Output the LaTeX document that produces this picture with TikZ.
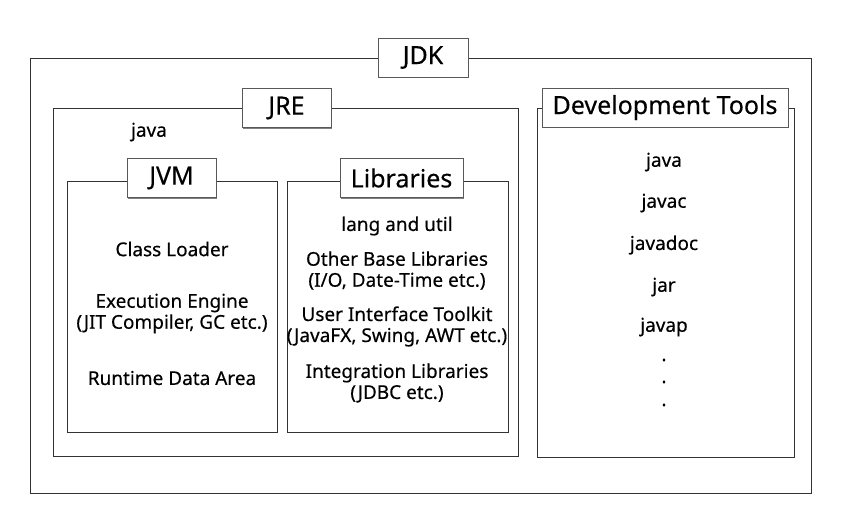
\documentclass[tikz,border=0pt]{standalone}
\usepackage{fontspec}
\setmainfont{Noto Sans}[FakeBold=0.35]
\usetikzlibrary{shadows}
\begin{document}
\begin{tikzpicture}[x=1pt,y=-1pt,
  frame/.style={draw=black!80, line width=0.9pt, inner sep=0pt, outer sep=0pt, anchor=north west},
  tag/.style={draw=black!65, fill=white, line width=0.9pt, inner sep=0pt, outer sep=0pt,
    minimum height=39pt, font=\fontsize{25}{28}\selectfont,
    drop shadow={shadow xshift=0.5pt, shadow yshift=-1.2pt, opacity=0.7, fill=black!70}},
  item/.style={font=\fontsize{19}{21}\selectfont, align=center, inner sep=0pt}]
\useasboundingbox (0,0) rectangle (851,512);
\fill[white] (0,0) rectangle (851,512);
% frames
\node[frame, minimum width=781pt, minimum height=435pt] (jdk) at (30,58) {};
\node[frame, minimum width=465pt, minimum height=348pt] (jre) at (53,108) {};
\node[frame, minimum width=210pt, minimum height=251pt] (jvm) at (67,181) {};
\node[frame, minimum width=221pt, minimum height=251pt] (lib) at (287,181) {};
\node[frame, minimum width=257pt, minimum height=349pt] (dev) at (537,108) {};
% tags
\node[tag, minimum width=90pt] (jdkt) at (423,57.5) {JDK};
\node[tag, minimum width=89pt] (jret) at (286.5,108) {JRE};
\node[tag, minimum width=89pt] (jvmt) at (171.5,178) {JVM};
\node[tag, minimum width=123pt] (libt) at (401.5,178) {Libraries};
\node[tag, minimum width=246pt] (devt) at (665,107.5) {Development Tools};
% JRE
\node[item] (jrejava) at (149,132) {java};
% JVM items
\node[item] (cl) at (172,249) {Class Loader};
\node[item] (ee) at (172,313.5) {Execution Engine\\(JIT Compiler, GC etc.)};
\node[item] (rda) at (172,378) {Runtime Data Area};
% Libraries items
\node[item] (lu) at (397,226) {lang and util};
\node[item] (obl) at (397,270.5) {Other Base Libraries\\(I/O, Date-Time etc.)};
\node[item] (uit) at (397,326.5) {User Interface Toolkit\\(JavaFX, Swing, AWT etc.)};
\node[item] (il) at (397,383) {Integration Libraries\\(JDBC etc.)};
% Dev tools
\node[item] (d1) at (664,162) {java};
\node[item] (d2) at (664,203) {javac};
\node[item] (d3) at (664,245) {javadoc};
\node[item] (d4) at (664,287) {jar};
\node[item] (d5) at (664,327) {javap};
\node[item] (dd1) at (664,360) {.};
\node[item] (dd2) at (664,382) {.};
\node[item] (dd3) at (664,405) {.};
\end{tikzpicture}
\end{document}
